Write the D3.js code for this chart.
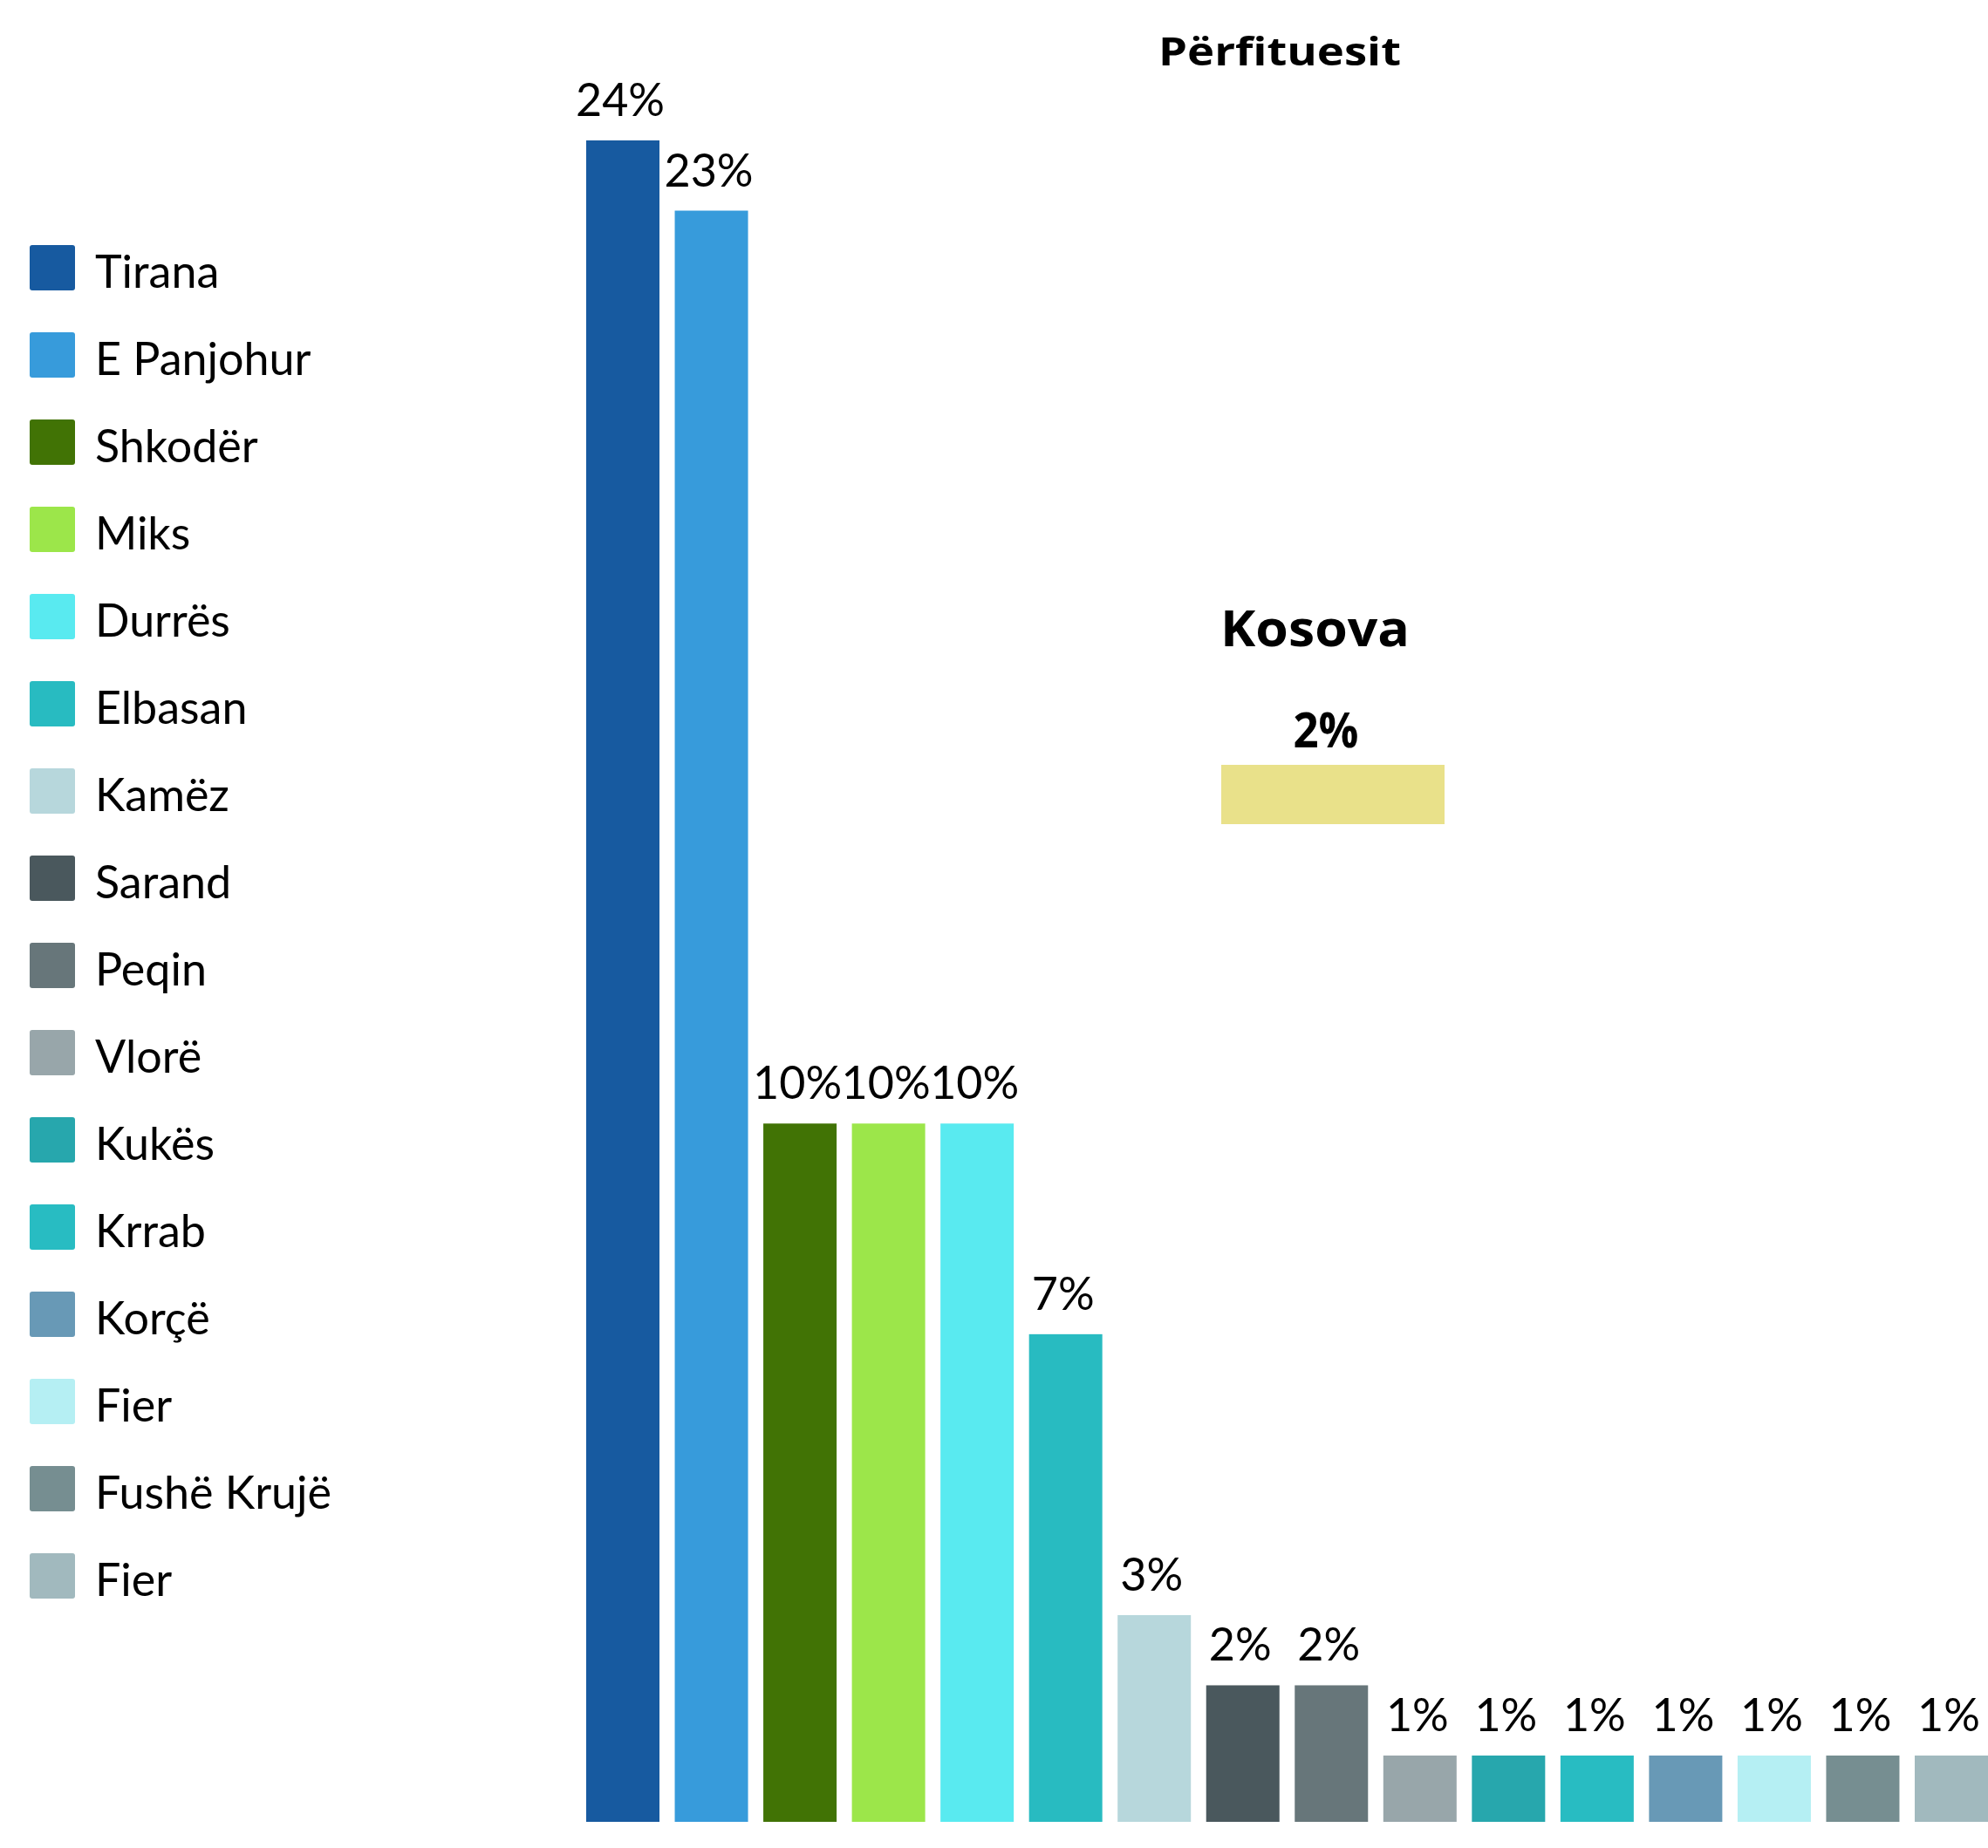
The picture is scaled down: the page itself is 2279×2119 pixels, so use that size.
<!DOCTYPE html>
<html>
<head>
<meta charset="utf-8">
<script src="https://cdn.jsdelivr.net/npm/d3@7"></script>
<style>
  html, body { margin: 0; padding: 0; background: #ffffff; }
  svg { display: block; }
</style>
</head>
<body>
<div id="chart"></div>
<script>
// ---- Data ----
const categories = ["Tirana", "E Panjohur", "Shkodër", "Miks", "Durrës", "Elbasan", "Kamëz", "Sarand", "Peqin", "Vlorë", "Kukës", "Krrab", "Korçë", "Fier", "Fushë Krujë", "Fier"];
const values = [24, 23, 10, 10, 10, 7, 3, 2, 2, 1, 1, 1, 1, 1, 1, 1];
const labels = ["24%", "23%", "10%", "10%", "10%", "7%", "3%", "2%", "2%", "1%", "1%", "1%", "1%", "1%", "1%", "1%"];
const colors = ["#175AA0", "#379BDB", "#417305", "#9CE64A", "#59EAF0", "#28BBC1", "#B7D7DC", "#4A585D", "#67767A", "#98A6AA", "#27A7AD", "#28BCC2", "#6899B6", "#B5EFF3", "#768E91", "#A1B9BE"];
const title = "Përfituesit";
const insetTitle = "Kosova";
const insetValue = [2];
const insetLabel = ["2%"];
const insetColor = "#E9E18A";

// ---- Layout ----
const W = 2279, H = 2119;
const BOTTOM = 2089;
const boldFont = "'Open Sans', Inter, sans-serif";

const svg = d3.select("#chart").append("svg")
  .attr("width", W).attr("height", H)
  .attr("viewBox", `0 0 ${W} ${H}`);

const idx = d3.range(categories.length);

const x = d3.scaleBand()
  .domain(idx)
  .range([672, 2279])
  .paddingInner(0.1727)
  .paddingOuter(0);

const y = d3.scaleLinear()
  .domain([0, 24])
  .range([2093.5, 161]);

// Bars
svg.append("g").selectAll("rect")
  .data(idx)
  .join("rect")
  .attr("x", i => x(i))
  .attr("y", i => y(values[i]))
  .attr("width", x.bandwidth())
  .attr("height", i => BOTTOM - y(values[i]))
  .attr("fill", i => colors[i]);

// Value labels
svg.append("g").selectAll("text")
  .data(idx)
  .join("text")
  .attr("x", i => x(i) + x.bandwidth() / 2 - 3)
  .attr("y", i => y(values[i]) - 28)
  .attr("text-anchor", "middle")
  .attr("font-family", "Lato, 'Open Sans', sans-serif")
  .attr("font-size", 52)
  .attr("fill", "#000")
  .text(i => labels[i]);

// Title
svg.append("text")
  .attr("x", 1467)
  .attr("y", 75)
  .attr("text-anchor", "middle")
  .attr("font-family", boldFont)
  .attr("font-weight", 700)
  .attr("font-size", 45)
  .attr("fill", "#000")
  .attr("textLength", 278)
  .attr("lengthAdjust", "spacingAndGlyphs")
  .text(title);

// Legend
const legend = svg.append("g").selectAll("g")
  .data(idx)
  .join("g")
  .attr("transform", i => `translate(34, ${281 + i * 100})`);

legend.append("rect")
  .attr("width", 52).attr("height", 52)
  .attr("rx", 3).attr("ry", 3)
  .attr("fill", i => colors[i]);

legend.append("text")
  .attr("x", 75)
  .attr("y", 49)
  .attr("font-family", "Lato, 'Open Sans', sans-serif")
  .attr("font-size", 52)
  .attr("fill", "#000")
  .text(i => categories[i]);

// Kosova inset
const kx = d3.scaleLinear().domain([0, 2]).range([0, 256]);
svg.append("text")
  .attr("x", 1399)
  .attr("y", 741)
  .attr("font-family", boldFont)
  .attr("font-weight", 700)
  .attr("font-size", 58)
  .attr("fill", "#000")
  .attr("textLength", 217)
  .attr("lengthAdjust", "spacingAndGlyphs")
  .text(insetTitle);

svg.append("g").selectAll("rect")
  .data(insetValue)
  .join("rect")
  .attr("x", 1400)
  .attr("y", 877)
  .attr("width", d => kx(d))
  .attr("height", 68)
  .attr("fill", insetColor);

svg.append("g").selectAll("text")
  .data(insetLabel)
  .join("text")
  .attr("x", 1520)
  .attr("y", 857)
  .attr("text-anchor", "middle")
  .attr("font-family", boldFont)
  .attr("font-weight", 700)
  .attr("font-size", 56)
  .attr("fill", "#000")
  .attr("textLength", 75)
  .attr("lengthAdjust", "spacingAndGlyphs")
  .text(d => d);
</script>
</body>
</html>
